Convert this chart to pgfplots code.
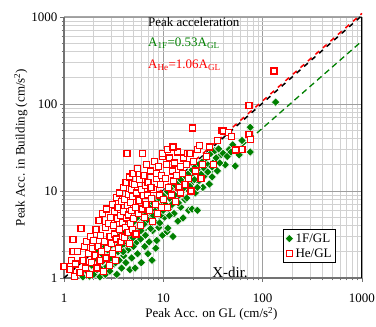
\documentclass[border=0pt]{standalone}
\usepackage{pgfplots}
\pgfplotsset{compat=1.18}
\usepackage{fontspec}
\setmainfont{Liberation Serif}
\definecolor{dgreen}{RGB}{0,128,0}
\definecolor{gridmaj}{gray}{0.62}
\definecolor{gridmin}{gray}{0.82}
\definecolor{axgray}{gray}{0.45}
\newcommand{\fs}{\fontsize{13bp}{15bp}\selectfont}
\begin{document}
\begin{tikzpicture}
\path[use as bounding box] (-64bp,-49bp) rectangle (312bp,278bp);
\begin{axis}[
  at={(0,0)}, anchor=south west,
  scale only axis, width=298bp, height=261bp,
  xmode=log, ymode=log,
  xmin=1, xmax=1000, ymin=1, ymax=1000,
  clip=false,
  axis line style={draw=none},
  xtick={1,10,100,1000}, ytick={1,10,100,1000},
  xticklabels={1,10,100,1000}, yticklabels={1,10,100,1000},
  minor xtick={2,3,4,5,6,7,8,9,20,30,40,50,60,70,80,90,200,300,400,500,600,700,800,900},
  minor ytick={2,3,4,5,6,7,8,9,20,30,40,50,60,70,80,90,200,300,400,500,600,700,800,900},
  grid=both,
  major grid style={gridmaj, line width=0.8bp},
  minor grid style={gridmin, line width=0.8bp},
  xtick pos=left, ytick pos=left,
  tick align=outside,
  major tick length=4bp, minor tick length=2.5bp,
  tick style={axgray, line width=0.8bp},
  /pgf/number format/assume math mode=true,
  tick label style={font=\fs},
  xticklabel style={anchor=base, inner sep=0pt, yshift=-21bp},
  yticklabel style={anchor=east, xshift=1bp},
  xlabel={Peak Acc. on GL (cm/s\textsuperscript{2})},
  ylabel={Peak Acc. in Building (cm/s\textsuperscript{2})},
  xlabel style={font=\fs, inner sep=0pt, at={(axis description cs:0.495,-0.153)}, anchor=base},
  ylabel style={font=\fs, at={(axis description cs:-0.145,0.5)}, anchor=center},
  legend style={at={(rel axis cs:0.913,0.057)}, anchor=south east, draw=black, line width=0.8bp, font=\fs, inner sep=2bp, row sep=1bp},
  legend cell align=left,
]
% frame
\draw[axgray, line width=1.8bp] (rel axis cs:0,0) -- (rel axis cs:0,1);
\draw[axgray, line width=1.3bp] (rel axis cs:0,0) -- (rel axis cs:1,0);
\draw[black, line width=1bp] (rel axis cs:1,0) -- (rel axis cs:1,1);
\draw[gray!70, line width=1bp] (rel axis cs:0,1) -- (rel axis cs:1,1);

\addplot[only marks, mark=square*, mark size=3bp, mark options={rotate=45, fill=dgreen, draw=white, line width=0.5bp}] coordinates {
(1.55,1.03)(1.7,1.2)(1.8,1.05)(1.9,1.4)(2.0,1.1)(2.15,1.25)(2.2,1.6)(2.3,1.03)(2.4,1.9)(2.5,1.3)
(2.6,1.1)(2.7,1.35)(2.75,2.1)(2.8,1.6)(2.9,1.2)(3.0,2.4)(3.1,1.8)(3.2,1.45)(3.3,1.5)(3.35,2.8)
(3.4,1.1)(3.5,2.0)(3.6,1.6)(3.7,3.0)(3.8,1.3)(3.9,2.4)(4.0,1.8)(4.1,3.4)(4.2,1.5)(4.3,2.7)
(4.4,2.1)(4.5,3.8)(4.6,1.25)(4.7,2.9)(4.8,1.7)(4.9,4.2)(5.0,2.3)(5.1,3.3)(5.2,1.3)(5.3,4.6)
(5.4,2.6)(5.5,1.9)(5.6,3.6)(5.8,5.0)(5.9,2.8)(6.0,1.5)(6.2,4.0)(6.3,5.5)(6.5,2.3)(6.6,3.1)
(6.8,6.0)(6.9,4.4)(7.0,1.9)(7.2,2.6)(7.4,5.0)(7.6,6.8)(7.7,1.6)(7.8,3.5)(8.0,4.5)(8.2,7.4)
(8.4,2.2)(8.6,2.7)(8.8,5.6)(9.0,3.8)(9.2,4.3)(9.4,8.0)(9.6,6.2)(9.8,3.1)(10,7.0)(10.3,5.0)
(10.6,9.0)(10.9,3.4)(11.1,3.75)(11.4,6.3)(11.7,8.2)(12,10.5)(12.5,3.0)(12.8,5.5)(13.2,7.5)(13.6,11.5)
(14,4.5)(14.5,9.0)(15,6.5)(15.5,12.5)(15.8,4.9)(16.5,8.0)(17,14)(17.5,10.5)(18,6.0)(18.8,12)
(19.5,6.2)(20,16)(21,9.5)(22,6.0)(22.5,13)(23.5,18)(25,11)(26,15)(28,20)(29,12)
(31,14.5)(33,22)(35,17)(38,26)(42,20)(46,30)(50,34)(53,19.4)(58,26)(62,38)
(75,28)(75,54)(135,105)
(2.2,2.0)(2.6,2.3)(3.0,2.8)(3.4,3.1)(3.8,3.4)(4.2,3.9)(4.6,4.1)(5.0,4.4)(5.5,5.0)(6.0,5.4)
(6.5,5.9)(7.0,6.2)(7.5,6.6)(8.0,7.2)(8.5,7.6)(9.0,8.3)(10,8.8)(11,9.9)(12,11)(13,11.8)
(14,12.5)(15,13.5)(16.5,15)(18,16)(19.5,17.5)(21,19)(23,20.5)(25,22)(27,24)(30,27)
(33,29)(36,30.5)(2.45,1.55)(2.95,1.7)(3.45,2.3)(3.95,2.0)(4.45,2.5)(4.95,2.9)(5.45,3.3)(5.95,3.5)
(6.45,4.2)(6.95,4.7)(7.45,3.7)(7.95,5.2)(8.45,6.0)(8.95,6.7)(9.45,5.3)(9.95,6.0)(10.5,7.0)(11.5,5.2)
(12.2,7.0)(13.0,9.0)(14.2,7.3)(15.2,9.8)(16.0,10.8)(17.2,8.3)(18.5,11.3)(20.5,13.5)(22,11)(24,15.5)
(26,18)(28,16.5)(31,19)(34,24)(37,21)(40,27)(44,25)(48,28)
};
\addlegendentry{1F/GL}

\addplot[only marks, mark=square*, mark size=3bp, mark options={fill=white, draw=red, line width=1.2bp}] coordinates {
(1.0,1.35)(1.15,1.25)(1.23,2.75)(1.23,2.0)(1.2,1.6)(1.28,1.05)(1.48,3.7)(1.38,2.0)(1.3,1.45)(1.45,1.15)
(1.55,1.6)(1.6,2.3)(1.65,1.3)(1.7,2.6)(1.75,1.9)(1.8,1.1)(1.85,3.0)(1.9,1.5)(1.95,2.2)
(2.0,2.7)(2.05,1.8)(2.1,3.6)(2.15,1.3)(2.2,2.3)(2.25,4.6)(2.3,1.6)(2.35,3.1)(2.4,2.0)(2.45,5.5)
(2.5,1.2)(2.55,2.6)(2.6,3.8)(2.65,1.7)(2.7,6.2)(2.75,2.2)(2.8,4.2)(2.85,1.4)(2.9,3.0)(2.95,5.0)
(3.0,2.5)(3.05,7.0)(3.1,1.9)(3.15,4.0)(3.2,5.8)(3.25,3.2)(3.3,1.6)(3.35,8.5)(3.4,2.8)(3.45,4.8)
(3.5,6.5)(3.55,2.2)(3.6,3.6)(3.65,9.5)(3.7,5.2)(3.75,2.6)(3.8,7.5)(3.85,4.3)(3.9,3.0)(3.95,11.0)
(4.0,5.8)(4.05,2.9)(4.1,8.0)(4.15,3.8)(4.2,12.5)(4.25,4.9)(4.3,27)(4.35,6.8)(4.4,3.3)(4.45,9.2)
(4.5,5.3)(4.55,14.5)(4.6,2.5)(4.65,7.3)(4.7,4.2)(4.75,10.5)(4.8,6.0)(4.85,3.6)(4.9,8.6)(4.95,16)
(5.0,4.8)(5.1,12)(5.2,6.5)(5.3,3.2)(5.4,9.5)(5.5,18)(5.6,5.5)(5.7,7.8)(5.8,13.5)(5.9,4.0)
(6.0,10.5)(6.1,6.2)(6.2,27)(6.3,8.8)(6.4,15)(6.5,5.0)(6.6,11.5)(6.7,7.0)(6.8,20)(6.9,9.0)
(7.0,12.5)(7.2,6.0)(7.4,17)(7.6,8.2)(7.8,4.5)(8.0,10.5)(8.2,22)(8.4,7.0)(8.6,14)(8.8,5.5)
(9.0,19)(9.2,9.0)(9.4,12)(9.6,6.5)(9.8,25)(9.9,27)(10,8.0)(7.5,11)(8.5,16)(9.5,15)
(10.5,14)(10.8,20)(11,6.5)(11.3,11)(11.6,24)(12,9.0)(12.3,17)(12.6,13)(13,21)(13.3,7.5)
(13.6,15)(14,28)(14.4,11)(14.8,19)(15,9.5)(11,30)(12.5,32)
(15.5,16)(16,24)(16.5,12)(17,20)(17.5,27)(18,14)(18.6,27)(19,10)(19.5,53)(20,22)
(21,17)(22,30)(23,33.6)(24,14)(25,20)
(27,25)(29,32)(32,20)(35,38)(39,50)(40,49)(45,47)(49,42)(53,29.6)(62,30)
(73,45)(75,39)(73,97)(130,240)
};
\addlegendentry{He/GL}

\addplot[dgreen, line width=1.3bp, dash pattern=on 6bp off 4bp, forget plot] coordinates {(1.887,1) (1000,530)};
\addplot[black, line width=1.5bp, dash pattern=on 5bp off 5bp, forget plot] coordinates {(1,1) (1000,1040)};
\addplot[red, line width=1.5bp, dash pattern=on 5bp off 5bp, dash phase=5bp, forget plot] coordinates {(1,1.06) (1000,1100)};

\node[anchor=base west, inner sep=0pt, font=\fs] at (axis cs:7,788) {Peak acceleration};
\node[anchor=base west, inner sep=0pt, font=\fs, text=dgreen] at (axis cs:7,458) {A\textsubscript{1F}=0.53A\textsubscript{GL}};
\node[anchor=base west, inner sep=0pt, font=\fs, text=red] at (axis cs:7,253) {A\textsubscript{He}=1.06A\textsubscript{GL}};
\node[anchor=base west, inner sep=0pt, font=\fontsize{15bp}{17bp}\selectfont] at (rel axis cs:0.497,0.003) {X-dir.};
\end{axis}
\end{tikzpicture}
\end{document}
